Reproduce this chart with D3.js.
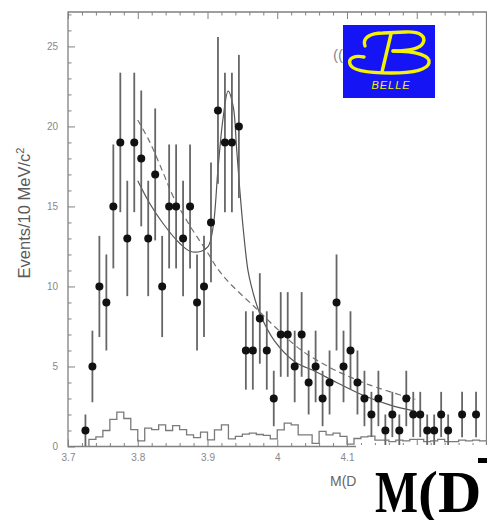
<!DOCTYPE html>
<html>
<head>
<meta charset="utf-8">
<script src="https://cdn.jsdelivr.net/npm/d3@7"></script>
<style>
  html, body { margin: 0; padding: 0; background: #fff; }
  svg { display: block; }
</style>
</head>
<body>
<svg id="chart" width="487" height="520"></svg>
<script>
// ---------------- data ----------------
const massBins = [3.725,3.735,3.745,3.755,3.765,3.775,3.785,3.795,3.805,3.815,3.825,3.835,3.845,3.855,3.865,3.875,3.885,3.895,
  3.905,3.915,3.925,3.935,3.945,3.955,3.965,3.975,3.985,3.995,
  4.005,4.015,4.025,4.035,4.045,4.055,4.065,4.075,4.085,4.095,
  4.105,4.115,4.125,4.135,4.145,4.155,4.165,4.175,4.185,4.195,
  4.205,4.215,4.225,4.235,4.245,4.255,4.265,4.275,4.285];
const events = [1,5,10,9,15,19,13,19,18,13,17,10,15,15,13,15,9,10,
  14,21,19,19,20,6,6,8,6,3,
  7,7,5,7,4,5,3,4,9,5,
  6,4,3,2,3,1,2,1,3,2,
  2,1,1,2,1,0,2,0,2];

const sidebandEdges = [3.73,3.74,3.75,3.76,3.77,3.78,3.79,
  3.80,3.81,3.82,3.83,3.84,3.85,3.86,3.87,3.88,3.89,
  3.90,3.91,3.92,3.93,3.94,3.95,3.96,3.97,3.98,3.99,
  4.00,4.01,4.02,4.03,4.04,4.05,4.06,4.07,4.08,4.09,
  4.10,4.11,4.12,4.13,4.14,4.15,4.16,4.17,4.18,4.19,
  4.20,4.21,4.22,4.23,4.24,4.25,4.26,4.27,4.28,4.29,4.30];
const sideband = [0.45,0.6,1.0,1.7,2.15,1.75,1.05,
  0.35,1.15,1.05,1.35,1.0,1.3,1.05,0.73,0.56,0.9,
  0.42,1.04,1.35,0.48,0.63,0.77,0.83,0.75,0.7,0.48,
  1.04,1.46,1.35,0.73,0.73,0.2,0.94,0.73,0.83,0.63,
  0.15,0.5,0.6,0.65,0.4,0.4,0.3,0.4,0.35,0.45,
  0.45,0.3,0.35,0.45,0.3,0.3,0.4,0.35,0.4,0.35];

const fitMass  = [3.800,3.817,3.836,3.860,3.875,3.891,3.901,3.908,3.915,3.922,3.9296,3.937,3.9416,3.946,3.951,3.958,3.963,3.968,3.977,3.996,4.025,4.054,4.085,4.123,4.161,4.198];
const fitYield = [16.6,15.2,13.95,12.7,12.2,12.2,12.5,13.7,17.3,20.4,22.2,21.2,18.7,16.2,13.7,11.0,10.0,9.2,8.1,6.6,5.3,4.7,4.0,3.2,2.6,2.2];

const bgMass  = [3.800,3.817,3.8365,3.851,3.879,3.899,3.913,3.932,3.968,4.001,4.035,4.075,4.104,4.132,4.156,4.185,4.198];
const bgYield = [20.4,19.05,17.1,15.6,13.5,12.2,11.2,10.2,8.7,7.3,6.0,4.95,4.35,3.85,3.5,3.1,2.95];

const xMajorTicks = [3.7,3.8,3.9,4.0,4.1,4.2];
const xTickLabels = ["3.7","3.8","3.9","4","4.1",""];
const yMajorTicks = [0,5,10,15,20,25];
const yTickLabels = ["0","5","10","15","20","25"];
const yTitle = "Events/10 MeV/c";
const xTitle = "M(D";
const bigTitleA = "M";
const bigTitleB = "(D";

// ---------------- drawing ----------------
const svg = d3.select("#chart");
const x = d3.scaleLinear().domain([3.7, 4.3]).range([68, 486.5]);
const y = d3.scaleLinear().domain([0, 27.15]).range([446.5, 12]);
const axisGray = "#808080";
const fontSans = "'Liberation Sans', Arial, Helvetica, sans-serif";

svg.append("rect").attr("width", 487).attr("height", 520).attr("fill", "#fff");

// sideband histogram
const histPts = [[sidebandEdges[0], 0]];
sideband.forEach((v, i) => histPts.push([sidebandEdges[i], v]));
histPts.push([sidebandEdges[sidebandEdges.length - 1], sideband[sideband.length - 1]]);
svg.append("path")
  .attr("d", d3.line().x(d => x(d[0])).y(d => y(d[1])).curve(d3.curveStepAfter)(histPts))
  .attr("fill", "none").attr("stroke", "#7a7a7a").attr("stroke-width", 1.3);

// fit curves
svg.append("path")
  .attr("d", d3.line().x((d, i) => x(bgMass[i])).y(d => y(d)).curve(d3.curveCatmullRom)(bgYield))
  .attr("fill", "none").attr("stroke", "#707070").attr("stroke-width", 1.2)
  .attr("stroke-dasharray", "6,4");
svg.append("path")
  .attr("d", d3.line().x((d, i) => x(fitMass[i])).y(d => y(d)).curve(d3.curveCatmullRom)(fitYield))
  .attr("fill", "none").attr("stroke", "#555").attr("stroke-width", 1.2);

// data points with sqrt(N) errors
const pts = massBins.map((m, i) => ({ m, n: events[i] })).filter(d => d.n > 0);
svg.append("g").selectAll("line").data(pts).join("line")
  .attr("x1", d => x(d.m)).attr("x2", d => x(d.m))
  .attr("y1", d => y(d.n + Math.sqrt(d.n))).attr("y2", d => y(Math.max(0, d.n - Math.sqrt(d.n))))
  .attr("stroke", "#666").attr("stroke-width", 1.8);
svg.append("g").selectAll("circle").data(pts).join("circle")
  .attr("cx", d => x(d.m)).attr("cy", d => y(d.n)).attr("r", 4)
  .attr("fill", "#111");

// axes
function styleAxis(g) {
  g.select(".domain").remove();
  g.selectAll(".tick line").attr("stroke", axisGray).attr("stroke-width", 1);
  g.selectAll(".tick text").attr("fill", "#888").attr("font-family", fontSans).attr("font-size", 10);
}
const xMinor = d3.range(0, 31).map(i => 3.7 + i * 0.02).filter((v, i) => i % 5 !== 0);
const yMinor = d3.range(0, 28).filter(v => v % 5 !== 0);

svg.append("g").attr("transform", `translate(0,${y(0)})`)
  .call(d3.axisBottom(x).tickValues(xMajorTicks).tickSize(-7).tickPadding(7)
    .tickFormat((d, i) => xTickLabels[i])).call(styleAxis);
svg.append("g").attr("transform", `translate(0,${y(0)})`)
  .call(d3.axisBottom(x).tickValues(xMinor).tickSize(-3.5).tickFormat("")).call(styleAxis);
svg.append("g").attr("transform", `translate(0,${y.range()[1]})`)
  .call(d3.axisTop(x).tickValues(xMajorTicks).tickSize(-7).tickFormat("")).call(styleAxis);
svg.append("g").attr("transform", `translate(0,${y.range()[1]})`)
  .call(d3.axisTop(x).tickValues(xMinor).tickSize(-3.5).tickFormat("")).call(styleAxis);
svg.append("g").attr("transform", `translate(${x(3.7)},0)`)
  .call(d3.axisLeft(y).tickValues(yMajorTicks).tickSize(-7).tickPadding(10)
    .tickFormat((d, i) => yTickLabels[i])).call(styleAxis);
svg.append("g").attr("transform", `translate(${x(3.7)},0)`)
  .call(d3.axisLeft(y).tickValues(yMinor).tickSize(-3.5).tickFormat("")).call(styleAxis);

// frame
svg.append("path")
  .attr("d", `M${x(4.3)},${y(0)} L${x(3.7)},${y(0)} L${x(3.7)},${y.range()[1]} L${x(4.3)},${y.range()[1]} L${x(4.3)},${y(0)}`)
  .attr("fill", "none").attr("stroke", axisGray).attr("stroke-width", 1.3);

// y title
const yt = svg.append("text")
  .attr("transform", "translate(30,213) rotate(-90)")
  .attr("text-anchor", "middle").attr("font-family", fontSans).attr("font-size", 16.5)
  .attr("fill", "#5a5a5a");
yt.append("tspan").text(yTitle);
yt.append("tspan").attr("font-size", 11).attr("dy", -6).text("2");

// x title (clipped by overlay)
svg.append("text").attr("x", 330).attr("y", 486).attr("font-family", fontSans)
  .attr("font-size", 14).attr("fill", "#666").text(xTitle);

// corner label partly hidden by logo
svg.append("text").attr("x", 333).attr("y", 60).attr("font-family", fontSans)
  .attr("font-size", 15).attr("fill", "#888").text("((");

// Belle logo
const logo = svg.append("g").attr("transform", "translate(343,25)");
logo.append("rect").attr("width", 92).attr("height", 73).attr("fill", "#1414f5");
const yellow = "#f4f400";
logo.append("path")
  .attr("d", "M22,21 C19,13 27,8 40,8 L62,7 C78,6 83,12 80,18 C77,24 66,26 50,26")
  .attr("fill", "none").attr("stroke", yellow).attr("stroke-width", 3.4).attr("stroke-linecap", "round");
logo.append("path")
  .attr("d", "M50,26 C74,26 88,31 86,38 C84,45 70,48 48,48 C28,48 9,46 7,39 C5,33 12,30 21,32")
  .attr("fill", "none").attr("stroke", yellow).attr("stroke-width", 3.4).attr("stroke-linecap", "round");
logo.append("path")
  .attr("d", "M48,9 L39,47")
  .attr("fill", "none").attr("stroke", yellow).attr("stroke-width", 3.4).attr("stroke-linecap", "round");
logo.append("text").attr("x", 48).attr("y", 64).attr("text-anchor", "middle")
  .attr("font-family", fontSans).attr("font-style", "italic").attr("font-size", 11)
  .attr("letter-spacing", 1).attr("fill", yellow).text("BELLE");

// overlay with large title
svg.append("rect").attr("x", 356).attr("y", 445).attr("width", 131).attr("height", 75).attr("fill", "#fff");
const serif = "'Liberation Serif', 'Times New Roman', serif";
svg.append("text").attr("transform", "translate(375,512) scale(0.76,1)")
  .attr("font-family", serif).attr("font-weight", "bold")
  .attr("font-size", 60).attr("fill", "#000").text(bigTitleA);
svg.append("text").attr("transform", "translate(418,512)")
  .attr("font-family", serif).attr("font-weight", "bold")
  .attr("font-size", 60).attr("fill", "#000").text(bigTitleB);
svg.append("rect").attr("x", 478).attr("y", 458).attr("width", 9).attr("height", 5).attr("fill", "#000");
</script>
</body>
</html>
